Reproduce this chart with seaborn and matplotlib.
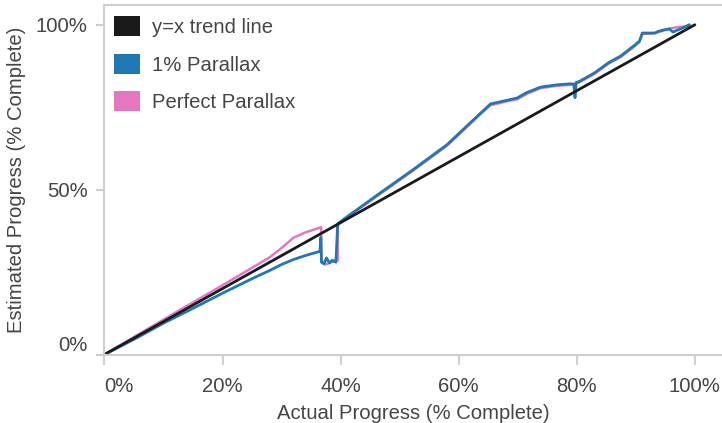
import matplotlib
matplotlib.use("Agg")
import matplotlib.pyplot as plt
from matplotlib.patches import Patch
import seaborn as sns
import pandas as pd

# ---- data (percent) ----
trend_x = [0, 100]
trend_y = [0, 100]

blue_x = [0, 5, 10, 15, 20, 25, 28, 30, 32, 34, 36.5, 36.65, 36.75, 37.2, 37.6, 38.1,
          38.6, 39.2, 39.5, 40.5, 46.7, 52.3, 58, 63.7, 65.4, 68.2, 69.9, 71.6, 73.9,
          76.7, 79, 79.5, 79.7, 79.9, 80.4, 83, 85.3, 87.5, 89.8, 90.6, 91.1, 93.2,
          93.8, 94.9, 95.7, 96.3, 97.2, 98.3, 99.1]
blue_y = [0, 4.6, 9.5, 14, 18.6, 23, 25.5, 27.3, 28.8, 30, 31.3, 35.5, 28, 27.5, 29.3,
          27.8, 28.6, 28, 39.6, 41, 49, 56.1, 63.6, 73.2, 76, 77.1, 77.8, 79.5, 81.1,
          81.8, 82.1, 82.0, 77.9, 82.5, 82.8, 85.4, 88.4, 90.6, 93.8, 95, 97.5, 97.5,
          98, 98.5, 98.7, 97.8, 98.5, 99.3, 100]

pink_x = [0, 10, 20, 25, 28, 30, 32, 34, 36.7, 36.75, 37.4, 37.9, 38.4, 39, 39.5, 39.55,
          40.5, 46.7, 52.3, 58, 63.7, 65.4, 68.2, 69.9, 71.6, 73.9, 76.7, 79, 80.4, 83,
          85.3, 87.5, 89.8, 90.6, 91.1, 93.2, 95.7, 97.2, 98.3, 99.1]
pink_y = [0, 10.6, 21, 26.3, 29.5, 32.3, 35.4, 37, 38.6, 28.5, 27.3, 27.6, 28, 28.2, 28.5,
          39.6, 40.8, 48.7, 55.8, 63.3, 72.9, 75.6, 76.8, 77.4, 79.1, 80.8, 81.5, 81.8,
          82.5, 85.1, 88.1, 90.3, 93.5, 94.7, 97.2, 97.4, 98.9, 99.3, 99.5, 100]

series_names = ["y=x trend line", "1% Parallax", "Perfect Parallax"]
series_colors = ["#1a1a1a", "#1f77b4", "#e377c2"]

x_ticks = [0, 20, 40, 60, 80, 100]
x_tick_labels = ["0%", "20%", "40%", "60%", "80%", "100%"]
y_ticks = [0, 50, 100]
y_tick_labels = ["0%", "50%", "100%"]

# ---- style ----
sns.set_theme(style="white")
plt.rcParams["font.family"] = ["Liberation Sans", "DejaVu Sans"]
text_color = "#454545"
spine_color = "#cfcfcf"
fs = 14.6

fig = plt.figure(figsize=(7.22, 4.23), dpi=100)
ax = fig.add_axes([0.1447, 0.1619, 0.8553, 0.8263])

df_pink = pd.DataFrame({"x": pink_x, "y": pink_y})
df_blue = pd.DataFrame({"x": blue_x, "y": blue_y})
df_trend = pd.DataFrame({"x": trend_x, "y": trend_y})

sns.lineplot(data=df_pink, x="x", y="y", sort=False, estimator=None, ax=ax,
             color=series_colors[2], linewidth=1.8, legend=False)
sns.lineplot(data=df_blue, x="x", y="y", sort=False, estimator=None, ax=ax,
             color=series_colors[1], linewidth=2.0, legend=False)
sns.lineplot(data=df_trend, x="x", y="y", sort=False, estimator=None, ax=ax,
             color=series_colors[0], linewidth=2.0, legend=False)

ax.set_xlim(0, 104.6)
ax.set_ylim(0, 106)

ax.set_xticks(x_ticks)
ax.set_xticklabels(x_tick_labels)
ax.set_yticks(y_ticks)
ax.set_yticklabels(y_tick_labels)
ax.get_xticklabels()[0].set_horizontalalignment("left")
ax.get_yticklabels()[0].set_verticalalignment("bottom")

ax.tick_params(axis="both", which="major", labelsize=fs, labelcolor=text_color,
               color=spine_color, width=1.5, bottom=True, left=True)
ax.tick_params(axis="x", length=7, pad=9)
ax.tick_params(axis="y", length=6, pad=6)

for side in ["left", "bottom", "top"]:
    ax.spines[side].set_visible(True)
    ax.spines[side].set_color(spine_color)
    ax.spines[side].set_linewidth(1.5)
ax.spines["right"].set_visible(False)

ax.set_xlabel("Actual Progress (% Complete)", fontsize=fs, color=text_color, labelpad=6)
ax.set_ylabel("Estimated Progress (% Complete)", fontsize=fs, color=text_color, labelpad=7)

handles = [Patch(facecolor=c, edgecolor="none") for c in series_colors]
leg = ax.legend(handles, series_names, loc="upper left", bbox_to_anchor=(0.016, 0.968),
                frameon=False, fontsize=fs, handlelength=1.25, handleheight=1.15,
                handletextpad=0.6, labelspacing=0.82, borderpad=0, borderaxespad=0)
for t in leg.get_texts():
    t.set_color(text_color)

fig.savefig("out.png", dpi=100)
